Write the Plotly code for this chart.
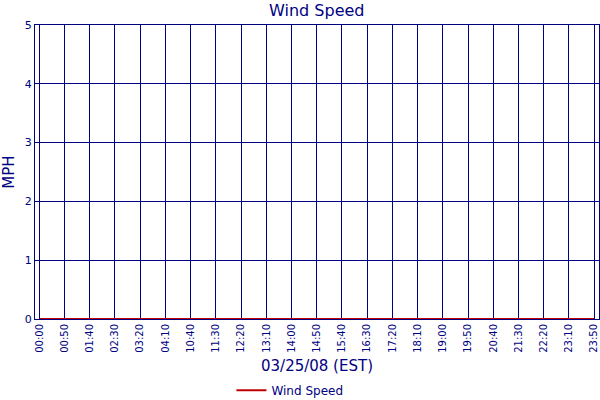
import plotly.graph_objects as go

times = ["00:00", "00:50", "01:40", "02:30", "03:20", "04:10", "10:40", "11:30",
         "12:20", "13:10", "14:00", "14:50", "15:40", "16:30", "17:20", "18:10",
         "19:00", "19:50", "20:40", "21:30", "22:20", "23:10", "23:50"]
wind_mph = [0, 0, 0, 0, 0, 0, 0, 0, 0, 0, 0, 0, 0, 0, 0, 0, 0, 0, 0, 0, 0, 0, 0]

navy = "#000080"
font = "DejaVu Sans"

fig = go.Figure()
fig.add_trace(go.Scatter(x=times, y=wind_mph, mode="lines", name="Wind Speed",
                         line=dict(color="#c00000", width=2), showlegend=True))

fig.update_layout(
    width=600, height=400,
    margin=dict(l=35, r=1, t=25, b=81, autoexpand=False),
    paper_bgcolor="white", plot_bgcolor="white",
    font=dict(family=font, color=navy),
    title=dict(text="Wind Speed", x=0.528, xanchor="center", y=0.975, yanchor="middle",
               font=dict(size=16, color=navy, family=font)),
    showlegend=True,
    legend=dict(orientation="h", x=0.452, xanchor="center", y=-0.193, yanchor="top",
                font=dict(size=12, color=navy, family=font)),
    xaxis=dict(type="category", range=[-0.17, 22.19], tickangle=-90, automargin=False,
               tickfont=dict(size=10, color=navy, family=font),
               showgrid=True, gridcolor=navy, gridwidth=1,
               showline=True, linecolor=navy, linewidth=1, mirror=True,
               ticks="", zeroline=False,
               title=dict(text="03/25/08 (EST)", font=dict(size=15, color=navy, family=font), standoff=8)),
    yaxis=dict(range=[0, 5], dtick=1, automargin=False,
               tickfont=dict(size=11, color=navy, family=font),
               showgrid=True, gridcolor=navy, gridwidth=1,
               showline=True, linecolor=navy, linewidth=1, mirror=True,
               ticks="", zeroline=False,
               title=dict(text="MPH", font=dict(size=15, color=navy, family=font), standoff=8)),
)

fig.write_html("out.html", config={"displayModeBar": False},
               post_script="document.body.style.margin='0';")
